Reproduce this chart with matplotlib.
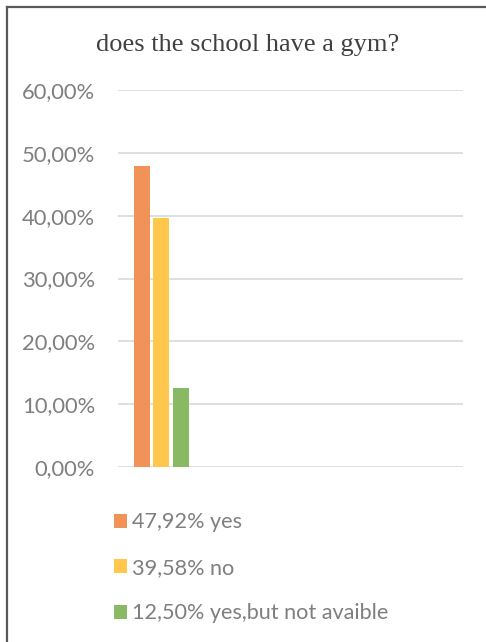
import matplotlib
matplotlib.use("Agg")
import matplotlib.pyplot as plt
from matplotlib.patches import Patch
from matplotlib.ticker import FuncFormatter

title = "does the school have a gym?"
labels = ["47,92% yes", "39,58% no", "12,50% yes,but not avaible"]
values = [47.92, 39.58, 12.50]
colors = ["#F19359", "#FFC84C", "#89B962"]
n_categories = 4  # only the first category holds data
yticks = [0, 10, 20, 30, 40, 50, 60]

fig = plt.figure(figsize=(4.86, 6.42), dpi=100)
fig.patch.set_facecolor("white")

# partial border (left and top only, as cropped in reference)
fig.add_artist(plt.Line2D([6.5/486, 6.5/486], [0, 1 - 6.5/642], transform=fig.transFigure,
                          color="#595959", lw=1.6))
fig.add_artist(plt.Line2D([6.5/486, 1], [1 - 6.5/642, 1 - 6.5/642], transform=fig.transFigure,
                          color="#595959", lw=1.6))

ax = fig.add_axes([118/486, 1 - 467/642, 345/486, (467 - 90)/642])
width = 0.185
offsets = [-0.226, 0.0, 0.226]
for v, c, off, lab in zip(values, colors, offsets, labels):
    ax.bar(0 + off, v, width=width, color=c, label=lab, zorder=3)

ax.set_xlim(-0.5, n_categories - 0.5)
ax.set_ylim(0, 60)
ax.set_yticks(yticks)
ax.yaxis.set_major_formatter(FuncFormatter(lambda v, p: f"{v:.2f}".replace(".", ",") + "%"))
ax.set_xticks([])
ax.grid(axis="y", color="#D9D9D9", lw=1.2, zorder=0)
for s in ax.spines.values():
    s.set_visible(False)
ax.tick_params(axis="y", length=0, pad=16.5, labelsize=15.8, labelcolor="#7F7F7F")
for t in ax.get_yticklabels():
    t.set_fontfamily(["Lato", "DejaVu Sans"])

fig.text(248/486, 1 - 45/642, title, ha="center", va="center",
         fontsize=19, color="#404040", family=["Liberation Serif", "DejaVu Serif"])

handles = [Patch(facecolor=c, edgecolor="none") for c in colors]
leg = fig.legend(handles, labels, loc="upper left", bbox_to_anchor=(94/486, 1 - 493/642),
                 frameon=False, ncol=1, labelspacing=1.17, handlelength=0.62, handleheight=0.62,
                 handletextpad=0.25, prop={"family": ["Lato", "DejaVu Sans"], "size": 15.6})
for t in leg.get_texts():
    t.set_color("#7F7F7F")

fig.savefig("out.png", dpi=100, facecolor="white")
